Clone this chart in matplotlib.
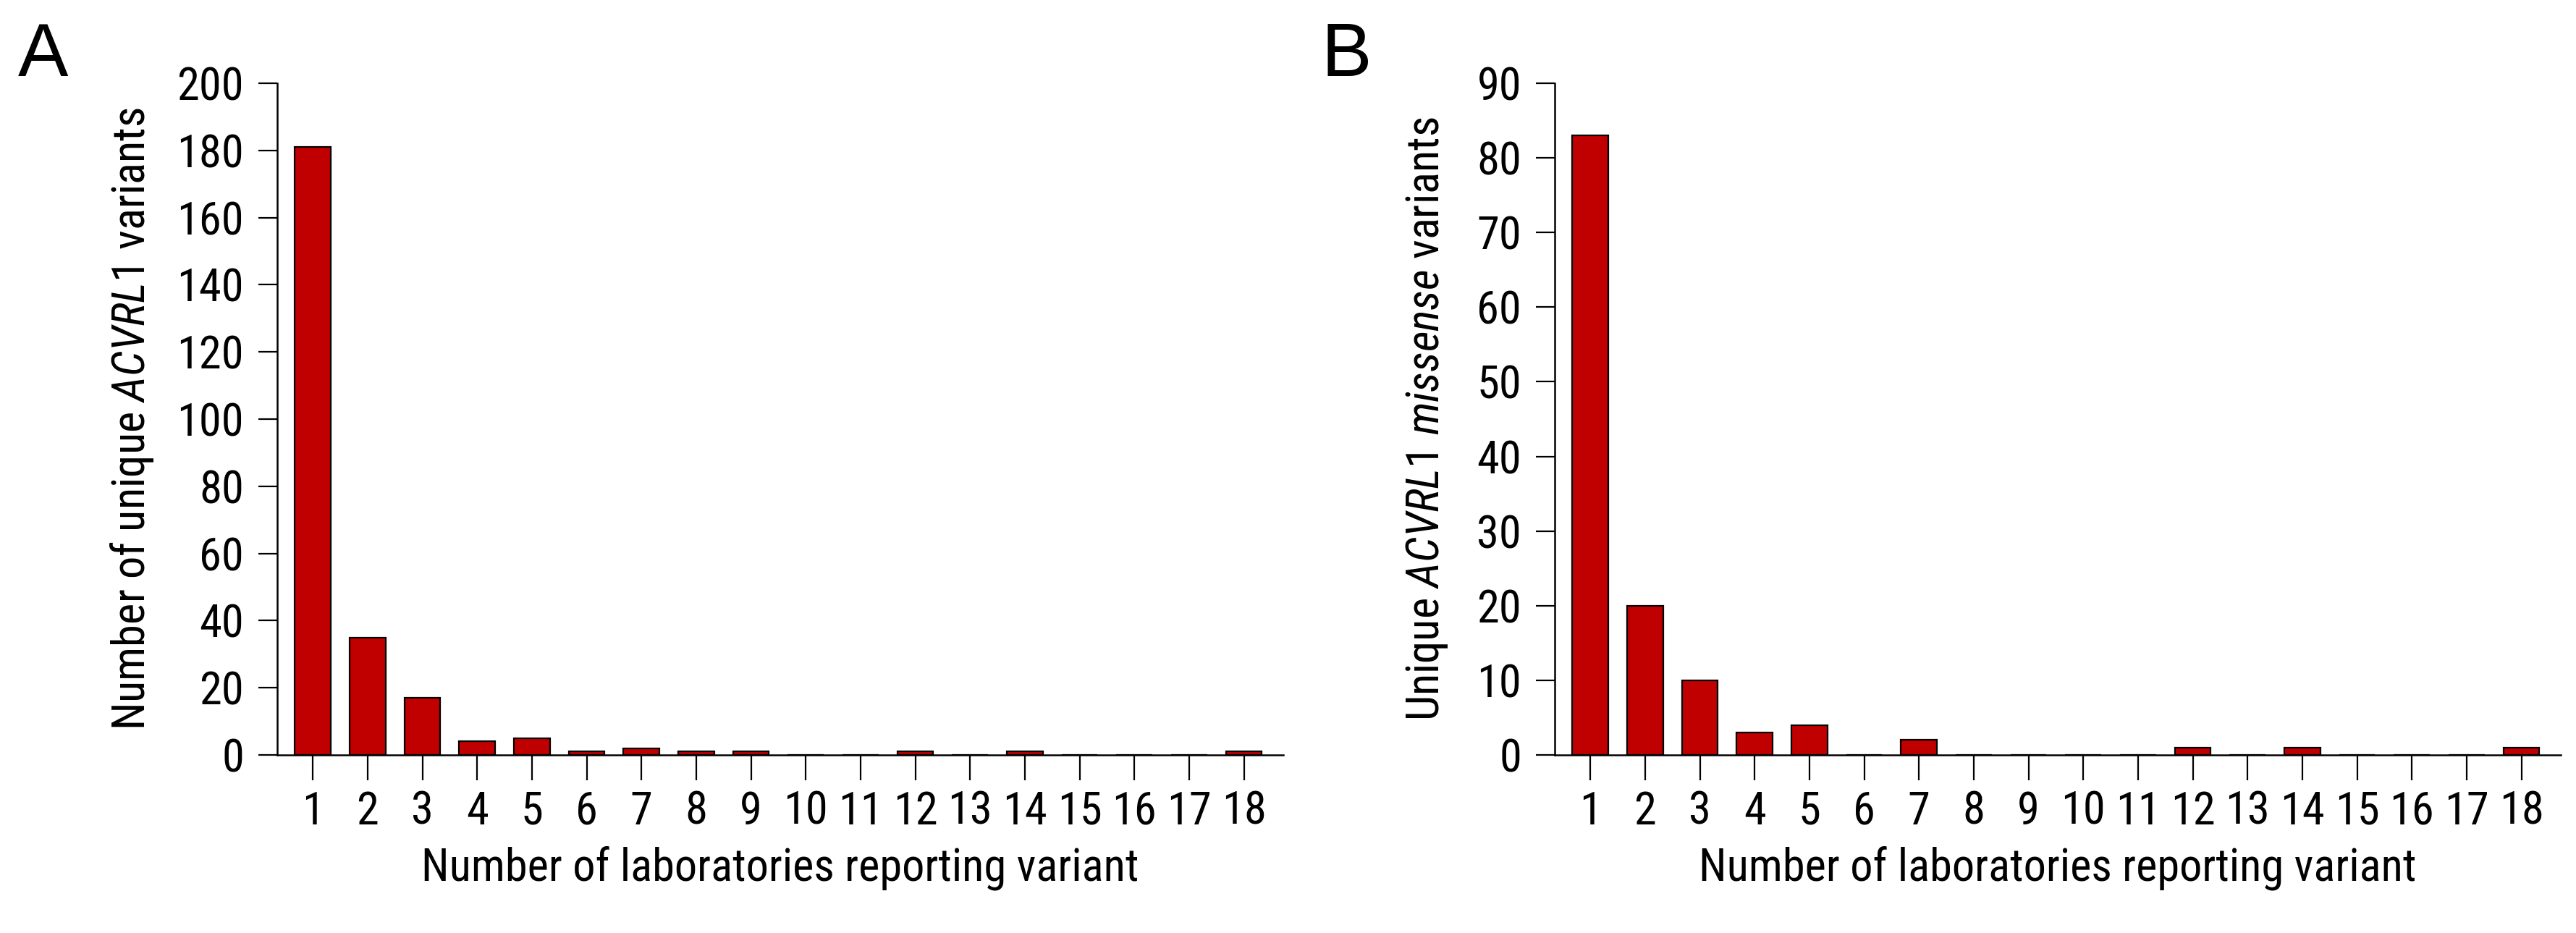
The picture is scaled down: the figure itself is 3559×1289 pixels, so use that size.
import matplotlib
matplotlib.use("Agg")
import matplotlib.pyplot as plt
from matplotlib import font_manager
import numpy as np

# Daten
labs = list(range(1, 19))  # Anzahl Labore, die eine Variante melden
counts_all = [181, 35, 17, 4, 5, 1, 2, 1, 1, 0, 0, 1, 0, 1, 0, 0, 0, 1]
counts_missense = [83, 20, 10, 3, 4, 0, 2, 0, 0, 0, 0, 1, 0, 1, 0, 0, 0, 1]
yticks_a = list(range(0, 201, 20))
yticks_b = list(range(0, 91, 10))

xlabel = "Number of laboratories reporting variant"
ylabel_a = r"Number of unique $\mathit{ACVRL1}$ variants"
ylabel_b = r"Unique $\mathit{ACVRL1\ missense}$ variants"


# schmale Schrift suchen (Narrow / Condensed), sonst normale Liberation Sans
def find_narrow():
    prefs = ['liberation sans narrow', 'arial narrow', 'roboto condensed', 'open sans condensed',
             'dejavu sans', 'noto sans', 'open sans', 'roboto']
    found = []
    for f in font_manager.fontManager.ttflist:
        low = (f.name + ' ' + f.fname).lower()
        is_narrow = ('narrow' in low or 'condensed' in low or
                     str(f.stretch) in ('condensed', 'semi-condensed', 'extra-condensed'))
        if not is_narrow or f.style != 'normal':
            continue
        if 'bold' in low or 'light' in low or 'thin' in low or 'medium' in low or 'black' in low:
            continue
        rank = len(prefs)
        for i, p in enumerate(prefs):
            if f.name.lower().startswith(p):
                rank = i
                break
        found.append((rank, f.name, str(f.stretch)))
    if not found:
        return 'Liberation Sans', 'normal'
    found.sort()
    return found[0][1], found[0][2]


fam, stretch = find_narrow()
plt.rcParams['font.family'] = [fam, 'Liberation Sans', 'DejaVu Sans']
plt.rcParams['font.stretch'] = stretch
plt.rcParams['mathtext.fontset'] = 'custom'
plt.rcParams['mathtext.rm'] = fam + ':stretch=' + stretch
plt.rcParams['mathtext.it'] = fam + ':italic:stretch=' + stretch

W, H = 3559, 1289
fig = plt.figure(figsize=(W / 100, H / 100), dpi=100)

bar_color = '#C00000'
fs = 45


def panel(left_px, counts, yticks, ylabel, label_x):
    ax = fig.add_axes([left_px / W, 1 - 1043 / H, 1390 / W, 928 / H])
    ax.bar(labs, counts, width=0.66, color=bar_color, edgecolor='black', linewidth=1.6, zorder=3)
    ax.set_xlim(0.35, 18.72)
    ax.set_ylim(0, yticks[-1])
    ax.set_xticks(labs)
    ax.set_yticks(yticks)
    ax.spines['top'].set_visible(False)
    ax.spines['right'].set_visible(False)
    ax.spines['left'].set_linewidth(1.8)
    ax.spines['bottom'].set_linewidth(1.8)
    ax.spines['bottom'].set_zorder(4)
    ax.tick_params(axis='x', direction='out', length=25, width=1.6, pad=10, labelsize=fs)
    ax.tick_params(axis='y', direction='out', length=19, width=1.6, pad=14, labelsize=fs)
    ax.set_xlabel(xlabel, fontsize=fs)
    ax.xaxis.set_label_coords(0.5, -0.135)
    ax.xaxis.label.set_va('top')
    ax.set_ylabel(ylabel, fontsize=fs)
    ax.yaxis.set_label_coords(label_x, 0.5)
    return ax


ax1 = panel(383, counts_all, yticks_a, ylabel_a, -0.121)
ax2 = panel(2148, counts_missense, yticks_b, ylabel_b, -0.104)

# Buchstaben fuer die Teilabbildungen
fig.text(25 / W, 1 - 30 / H, 'A', fontsize=75, va='top', ha='left', family='Liberation Sans', stretch='normal')
fig.text(1825 / W, 1 - 30 / H, 'B', fontsize=75, va='top', ha='left', family='Liberation Sans', stretch='normal')

fig.savefig('out.png', dpi=100, facecolor='white')
